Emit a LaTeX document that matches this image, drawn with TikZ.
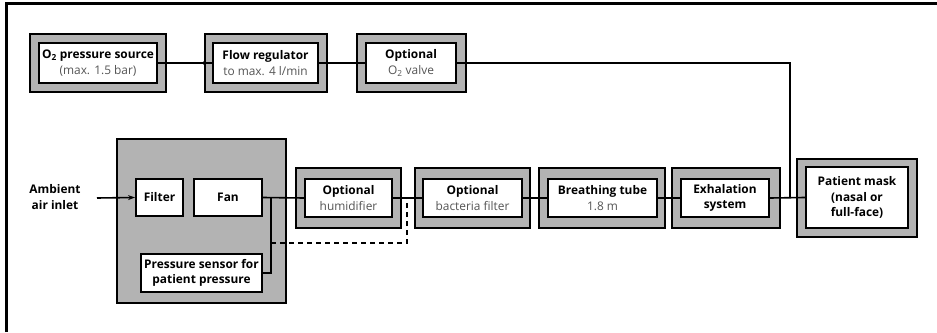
\documentclass[tikz,border=0pt]{standalone}
\usepackage{fontspec}
\setmainfont{Open Sans}
\usetikzlibrary{arrows.meta}
\definecolor{boxgray}{RGB}{179,179,179}
\definecolor{subgray}{RGB}{85,85,85}
\newcommand{\sub}[1]{{\mdseries\color{subgray}#1}}
\tikzset{
  outerbox/.style={draw=black, line width=2pt, fill=boxgray, inner sep=0pt},
  innerbox/.style={draw=black, line width=2pt, fill=white, inner sep=0pt, align=center,
    font=\bfseries\fontsize{11.9}{15.5}\selectfont},
  labeltext/.style={align=center, inner sep=0pt, font=\bfseries\fontsize{11.9}{15.5}\selectfont},
  conn/.style={line width=1.6pt},
  dashconn/.style={line width=1.6pt, dash pattern=on 5pt off 4pt},
}
\begin{document}
\begin{tikzpicture}[x=1pt, y=-1pt]
\useasboundingbox (0,0) rectangle (937,332);
% frame (top and left visible)
\draw[line width=3pt] (6,332) -- (6,3) -- (937,3);

% outer gray boxes
\node[outerbox, minimum width=136pt, minimum height=58pt] (srcO) at (98,63) {};
\node[outerbox, minimum width=122pt, minimum height=58pt] (flowO) at (266,63) {};
\node[outerbox, minimum width=109pt, minimum height=58pt] (valveO) at (411.5,63) {};
\node[outerbox, minimum width=169pt, minimum height=164pt] (mainO) at (201.5,221) {};
\node[outerbox, minimum width=105pt, minimum height=60pt] (humidO) at (348.5,198) {};
\node[outerbox, minimum width=115pt, minimum height=60pt] (bactO) at (472.5,198) {};
\node[outerbox, minimum width=126pt, minimum height=60pt] (tubeO) at (602,198) {};
\node[outerbox, minimum width=108pt, minimum height=60pt] (exhalO) at (726,198) {};
\node[outerbox, minimum width=120pt, minimum height=78pt] (maskO) at (857,198) {};

% junction coordinates
\coordinate (ain) at (97,198);
\coordinate (j1) at (271,198);
\coordinate (d1) at (271,243);
\coordinate (d2) at (407,198);
\coordinate (j2) at (790,198);

\node[innerbox, minimum width=118pt, minimum height=40pt] (src) at (98,63)
  {O\textsubscript{2} pressure source\\\sub{(max. 1.5 bar)}};
\node[innerbox, minimum width=105pt, minimum height=40pt] (flow) at (265.5,63)
  {Flow regulator\\\sub{to max. 4 l/min}};
\node[innerbox, minimum width=90pt, minimum height=40pt] (valve) at (411,63)
  {Optional\\\sub{O\textsubscript{2} valve}};
\node[innerbox, minimum width=47pt, minimum height=37pt] (filter) at (159.5,197.5) {Filter};
\node[innerbox, minimum width=68pt, minimum height=37pt] (fan) at (228,197.5) {Fan};
\node[innerbox, minimum width=121pt, minimum height=38pt] (sensor) at (201.5,273)
  {Pressure sensor for\\patient pressure};
\node[innerbox, minimum width=87pt, minimum height=38pt] (humid) at (348.5,198)
  {Optional\\\sub{humidifier}};
\node[innerbox, minimum width=99pt, minimum height=38pt] (bact) at (472.5,198)
  {Optional\\\sub{bacteria filter}};
\node[innerbox, minimum width=109pt, minimum height=38pt] (tube) at (602.5,198)
  {Breathing tube\\\sub{1.8 m}};
\node[innerbox, minimum width=88pt, minimum height=38pt] (exhal) at (725,198)
  {Exhalation\\system};
\node[innerbox, minimum width=102pt, minimum height=61pt] (mask) at (857,197.5)
  {Patient mask\\(nasal or\\full-face)};
\node[labeltext] (amb) at (55,197) {Ambient\\air inlet};

\draw[conn] (src.east) -- (flow.west);
\fill (flowO.west) circle (1.8pt);
\draw[conn] (flow.east) -- (valve.west);
\draw[conn] (valve.east) -| (j2);
\draw[conn, -{Stealth[length=7pt,width=5pt]}] (ain) -- (filter.west);
\draw[conn] (fan.east) -- (humid.west);
\draw[conn] (j1) |- (sensor.east);
\draw[dashconn] (d1) -| (d2);
\draw[conn] (humid.east) -- (bact.west);
\draw[conn] (bact.east) -- (tube.west);
\draw[conn] (tube.east) -- (exhal.west);
\draw[conn] (exhal.east) -- (mask.west);
\end{tikzpicture}
\end{document}
